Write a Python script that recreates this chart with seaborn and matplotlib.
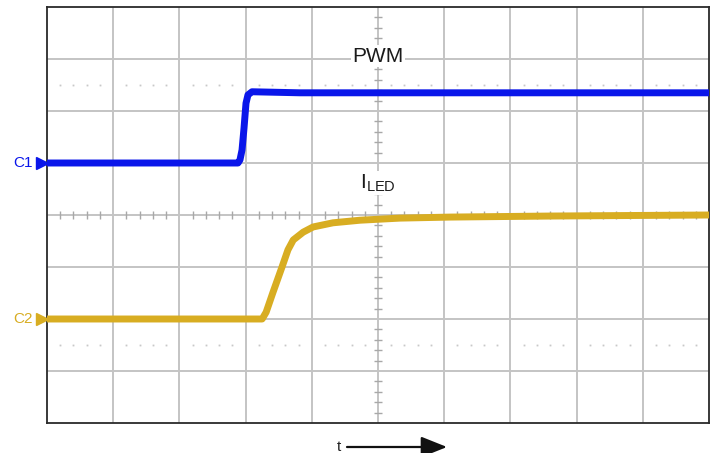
import matplotlib
matplotlib.use("Agg")
import matplotlib.pyplot as plt
import seaborn as sns
import pandas as pd
import numpy as np

# ---- data (screen divisions: x 0..10, y -4..4) ----
c1_time = [0.0, 2.885, 2.915, 2.946, 2.976, 3.006, 3.036, 3.097, 3.82, 10.0]
c1_level = [1.0, 1.0, 1.06, 1.25, 1.67, 2.15, 2.31, 2.37, 2.35, 2.35]

c2_time = [0.0, 3.25, 3.31, 3.41, 3.55, 3.64, 3.72, 3.87, 4.02, 4.32, 4.73, 5.33, 6.09, 7.60, 10.0]
c2_level = [-2.0, -2.0, -1.87, -1.5, -1.0, -0.67, -0.48, -0.33, -0.23, -0.15, -0.10, -0.06, -0.04, -0.02, 0.0]

channel_names = ["C1", "C2"]
channel_ground = [1.0, -2.0]
trace_labels = ["PWM", "I$_\\mathregular{LED}$"]

BLUE = "#0a16ea"
YELLOW = "#d8ad22"

sns.set_style("white")
plt.rcParams["font.family"] = ["Liberation Sans", "DejaVu Sans"]

fig = plt.figure(figsize=(7.14, 4.53), dpi=100)
W, H = 714, 453
L, R, T, B = 47, 709, 7, 423
ax = fig.add_axes([L / W, (H - B) / H, (R - L) / W, (B - T) / H])
ax.set_xlim(0, 10)
ax.set_ylim(-4, 4)

# grid
grid_c = "#c4c4c4"
for gx in range(1, 10):
    ax.axvline(gx, color=grid_c, lw=1.4, zorder=1)
for gy in range(-3, 4):
    ax.axhline(gy, color=grid_c, lw=1.4, zorder=1)

# minor ticks on center lines
px_x = 10 / (R - L)
px_y = 8 / (B - T)
mx = np.arange(0.2, 10, 0.2)
mx = mx[np.abs(mx - np.round(mx)) > 1e-6]
ax.vlines(mx, -4 * px_y, 4 * px_y, color="#a8a8a8", lw=1.0, zorder=1)
my = np.arange(-3.8, 4, 0.2)
my = my[np.abs(my - np.round(my)) > 1e-6]
ax.hlines(my, 5 - 4 * px_x, 5 + 4 * px_x, color="#a8a8a8", lw=1.0, zorder=1)

# dotted 10%/90% lines
for dy in (2.5, -2.5):
    ax.plot(mx, [dy] * len(mx), ls="none", marker="s", ms=1.3, color="#c8c8c8", mec="none", zorder=1)

# traces
df1 = pd.DataFrame({"t": c1_time, "v": c1_level})
df2 = pd.DataFrame({"t": c2_time, "v": c2_level})
sns.lineplot(data=df1, x="t", y="v", ax=ax, color=BLUE, lw=5.0, sort=False, zorder=3)
sns.lineplot(data=df2, x="t", y="v", ax=ax, color=YELLOW, lw=5.0, sort=False, zorder=3)
ax.set_xlabel("")
ax.set_ylabel("")
ax.set_xticks([])
ax.set_yticks([])

for sp in ax.spines.values():
    sp.set_color("#2a2a2a")
    sp.set_linewidth(1.3)
    sp.set_visible(True)

# trace labels
ax.text(5.0, (215 - 56) / 52, trace_labels[0], ha="center", va="center", fontsize=15,
        color="#1a1a1a", zorder=5,
        bbox=dict(facecolor="white", edgecolor="none", pad=1.0))
ax.text(5.0, (215 - 183) / 52, trace_labels[1], ha="center", va="center", fontsize=15,
        color="#1a1a1a", zorder=5,
        bbox=dict(facecolor="white", edgecolor="none", pad=1.0))

# channel markers
for name, g, col in zip(channel_names, channel_ground, [BLUE, YELLOW]):
    ax.plot([-(47 - 42) / 66.2], [g], marker=">", ms=9, color=col, mec=col, clip_on=False, zorder=5)
    ax.text(-(47 - 33) / 66.2, g, name, ha="right", va="center", fontsize=11, color=col,
            clip_on=False)

# time arrow
fig.text(339 / W, 6 / H, "t", ha="center", va="center", fontsize=11, color="#222222")
ax.annotate("", xy=(447, 6), xytext=(347, 6), xycoords="figure pixels", textcoords="figure pixels",
            arrowprops=dict(arrowstyle="-|>,head_length=0.8,head_width=0.32", color="#111111",
                            lw=1.6, mutation_scale=20, shrinkA=0, shrinkB=0),
            annotation_clip=False)

fig.savefig("out.png", dpi=100)
